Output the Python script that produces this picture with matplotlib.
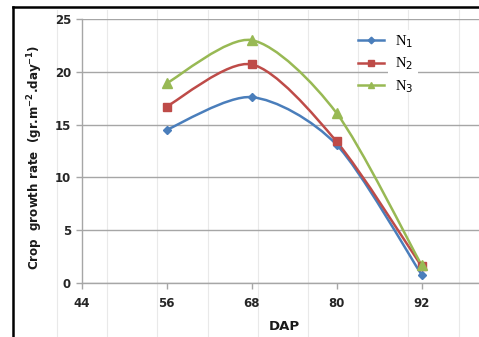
import matplotlib
matplotlib.use("Agg")
import matplotlib.pyplot as plt
from matplotlib.path import Path
from matplotlib.patches import PathPatch, Rectangle
from matplotlib.lines import Line2D
import numpy as np

# Days after planting and crop growth rate for each nitrogen level
dap = [56, 68, 80, 92]
n1 = [14.5, 17.6, 13.1, 0.8]
n2 = [16.7, 20.7, 13.4, 1.6]
n3 = [18.9, 23.0, 16.1, 1.7]
series_labels = [r"N$_1$", r"N$_2$", r"N$_3$"]
x_ticks = [44, 56, 68, 80, 92]
y_ticks = [0, 5, 10, 15, 20, 25]

colors = ["#4A7EBB", "#BE4B48", "#98B954"]
markers = ["D", "s", "^"]
msizes = [4.5, 6, 6.5]


def smooth_path(xs, ys, k=0.14):
    """Bezier path through the points (Catmull-Rom style smoothing)."""
    pts = np.column_stack([xs, ys]).astype(float)
    n = len(pts)
    verts = [pts[0]]
    codes = [Path.MOVETO]
    for i in range(n - 1):
        p0 = pts[i - 1] if i > 0 else pts[i]
        p1 = pts[i]
        p2 = pts[i + 1]
        p3 = pts[i + 2] if i + 2 < n else pts[i + 1]
        c1 = p1 + (p2 - p0) * k
        c2 = p2 - (p3 - p1) * k
        verts += [c1, c2, p2]
        codes += [Path.CURVE4] * 3
    return Path(verts, codes)


fig = plt.figure(figsize=(4.79, 3.37), dpi=100)
fig.patch.set_facecolor("white")

# faint background rules
for xp in np.arange(57, 479, 50.2):
    fig.add_artist(Line2D([xp / 479, xp / 479], [0, 1 - 10 / 337],
                          transform=fig.transFigure, color="#e9e9e9",
                          lw=0.8, zorder=0))

# black frame on the left and top
fig.add_artist(Line2D([12.5 / 479, 12.5 / 479], [0, 1 - 7 / 337],
                      transform=fig.transFigure, color="black", lw=1.8, zorder=5))
fig.add_artist(Line2D([12.5 / 479, 1], [1 - 7 / 337, 1 - 7 / 337],
                      transform=fig.transFigure, color="black", lw=1.8, zorder=5))

ax = fig.add_axes([81.5 / 479, 1 - 283 / 337, 1 - 81.5 / 479, (283 - 19) / 337])
ax.patch.set_alpha(0)

ax.set_xlim(44, 44 + (479 - 81.5) / 85 * 12)
ax.set_ylim(0, 25)
ax.set_xticks(x_ticks)
ax.set_yticks(y_ticks)

for s in ["top", "right"]:
    ax.spines[s].set_visible(False)
for s in ["left", "bottom"]:
    ax.spines[s].set_color("#a6a6a6")
    ax.spines[s].set_linewidth(1.0)

ax.yaxis.grid(True, color="#a6a6a6", lw=1.0)
ax.set_axisbelow(True)
ax.tick_params(axis="both", colors="#a6a6a6", length=4, width=1.0,
               labelcolor="#262626", labelsize=8.5)
ax.tick_params(axis="x", pad=6)
for lbl in ax.get_xticklabels() + ax.get_yticklabels():
    lbl.set_fontweight("bold")

for ys, c, m, ms, lab in zip([n1, n2, n3], colors, markers, msizes, series_labels):
    patch = PathPatch(smooth_path(dap, ys), facecolor="none", edgecolor=c,
                      lw=1.8, zorder=3)
    ax.add_patch(patch)
    ax.plot(dap, ys, linestyle="none", marker=m, markersize=ms, color=c,
            markeredgecolor=c, zorder=4, label=lab)

# legend
handles = [Line2D([], [], color=c, lw=1.8, marker=m, markersize=ms * 0.75)
           for c, m, ms in zip(colors, markers, msizes)]
ax.add_patch(Rectangle((388 / 479, 1 - 92 / 337), 30 / 479, 62 / 337,
                       transform=fig.transFigure, facecolor="white",
                       edgecolor="none", zorder=2))
leg = ax.legend(handles, series_labels, loc="upper left",
                bbox_to_anchor=((345 - 81.5) / (479 - 81.5), (283 - 20) / 264),
                frameon=False, handlelength=1.75, handletextpad=0.8,
                labelspacing=0.4, prop={"family": "Liberation Serif", "size": 10.5})

ax.text((284 - 81.5) / (479 - 81.5), -(327 - 283) / 264, "DAP",
        transform=ax.transAxes, ha="center", va="center",
        fontsize=9.5, fontweight="bold", color="#1a1a1a")
fig.text(35 / 479, 1 - 157 / 337,
         r"Crop  growth rate  (gr.m$^{\mathbf{-2}}$.day$^{\mathbf{-1}}$)",
         rotation=90, ha="center", va="center",
         fontsize=8.6, fontweight="bold", color="#1a1a1a")

fig.savefig("out.png", dpi=100, facecolor="white")
